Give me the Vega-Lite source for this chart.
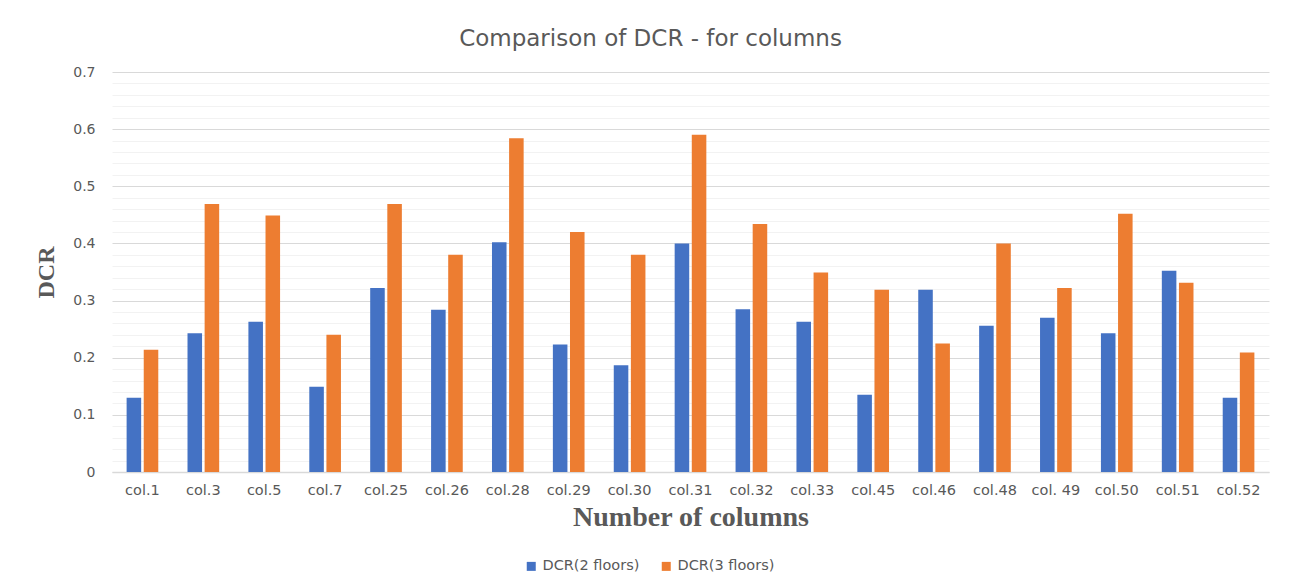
{
  "$schema": "https://vega.github.io/schema/vega-lite/v6.json",
  "width": 1157,
  "height": 400,
  "autosize": {"type": "none"},
  "padding": {"left": 112, "top": 72, "right": 24, "bottom": 116},
  "background": "white",
  "title": {
    "text": "Comparison of DCR - for columns",
    "font": "DejaVu Sans",
    "fontSize": 23,
    "fontWeight": "normal",
    "color": "#595959",
    "anchor": "middle",
    "frame": "group",
    "dx": -40,
    "offset": 14
  },
  "data": {
    "values": [
      {"col": "col.1", "series": "DCR(2 floors)", "dcr": 0.13},
      {"col": "col.1", "series": "DCR(3 floors)", "dcr": 0.214},
      {"col": "col.3", "series": "DCR(2 floors)", "dcr": 0.243},
      {"col": "col.3", "series": "DCR(3 floors)", "dcr": 0.469},
      {"col": "col.5", "series": "DCR(2 floors)", "dcr": 0.263},
      {"col": "col.5", "series": "DCR(3 floors)", "dcr": 0.449},
      {"col": "col.7", "series": "DCR(2 floors)", "dcr": 0.149},
      {"col": "col.7", "series": "DCR(3 floors)", "dcr": 0.24},
      {"col": "col.25", "series": "DCR(2 floors)", "dcr": 0.322},
      {"col": "col.25", "series": "DCR(3 floors)", "dcr": 0.469},
      {"col": "col.26", "series": "DCR(2 floors)", "dcr": 0.284},
      {"col": "col.26", "series": "DCR(3 floors)", "dcr": 0.38},
      {"col": "col.28", "series": "DCR(2 floors)", "dcr": 0.402},
      {"col": "col.28", "series": "DCR(3 floors)", "dcr": 0.584},
      {"col": "col.29", "series": "DCR(2 floors)", "dcr": 0.223},
      {"col": "col.29", "series": "DCR(3 floors)", "dcr": 0.42},
      {"col": "col.30", "series": "DCR(2 floors)", "dcr": 0.187},
      {"col": "col.30", "series": "DCR(3 floors)", "dcr": 0.38},
      {"col": "col.31", "series": "DCR(2 floors)", "dcr": 0.4},
      {"col": "col.31", "series": "DCR(3 floors)", "dcr": 0.59},
      {"col": "col.32", "series": "DCR(2 floors)", "dcr": 0.285},
      {"col": "col.32", "series": "DCR(3 floors)", "dcr": 0.434},
      {"col": "col.33", "series": "DCR(2 floors)", "dcr": 0.263},
      {"col": "col.33", "series": "DCR(3 floors)", "dcr": 0.349},
      {"col": "col.45", "series": "DCR(2 floors)", "dcr": 0.135},
      {"col": "col.45", "series": "DCR(3 floors)", "dcr": 0.319},
      {"col": "col.46", "series": "DCR(2 floors)", "dcr": 0.319},
      {"col": "col.46", "series": "DCR(3 floors)", "dcr": 0.225},
      {"col": "col.48", "series": "DCR(2 floors)", "dcr": 0.256},
      {"col": "col.48", "series": "DCR(3 floors)", "dcr": 0.4},
      {"col": "col. 49", "series": "DCR(2 floors)", "dcr": 0.27},
      {"col": "col. 49", "series": "DCR(3 floors)", "dcr": 0.322},
      {"col": "col.50", "series": "DCR(2 floors)", "dcr": 0.243},
      {"col": "col.50", "series": "DCR(3 floors)", "dcr": 0.452},
      {"col": "col.51", "series": "DCR(2 floors)", "dcr": 0.352},
      {"col": "col.51", "series": "DCR(3 floors)", "dcr": 0.331},
      {"col": "col.52", "series": "DCR(2 floors)", "dcr": 0.13},
      {"col": "col.52", "series": "DCR(3 floors)", "dcr": 0.209}
    ]
  },
  "mark": {"type": "bar"},
  "encoding": {
    "x": {
      "field": "col",
      "type": "nominal",
      "sort": null,
      "scale": {"paddingInner": 0.48, "paddingOuter": 0.24},
      "axis": {
        "title": "Number of columns",
        "titleFont": "Liberation Serif",
        "titleFontSize": 28,
        "titleFontWeight": "bold",
        "titleColor": "#595959",
        "titlePadding": 7,
        "labelFont": "DejaVu Sans",
        "labelFontSize": 14.5,
        "labelColor": "#595959",
        "labelAngle": 0,
        "labelPadding": 11,
        "ticks": false,
        "domainColor": "#D9D9D9",
        "domainWidth": 1.3,
        "grid": false
      }
    },
    "xOffset": {
      "field": "series",
      "type": "nominal",
      "scale": {"paddingInner": 0.15, "paddingOuter": 0}
    },
    "y": {
      "field": "dcr",
      "type": "quantitative",
      "scale": {"domain": [0, 0.7], "nice": false},
      "axis": {
        "title": "DCR",
        "titleFont": "Liberation Serif",
        "titleFontSize": 24,
        "titleFontWeight": "bold",
        "titleColor": "#595959",
        "titlePadding": 14,
        "values": [0, 0.02, 0.04, 0.06, 0.08, 0.1, 0.12, 0.14, 0.16, 0.18, 0.2, 0.22, 0.24, 0.26, 0.28, 0.3, 0.32, 0.34, 0.36, 0.38, 0.4, 0.42, 0.44, 0.46, 0.48, 0.5, 0.52, 0.54, 0.56, 0.58, 0.6, 0.62, 0.64, 0.66, 0.68, 0.7],
        "format": ".1~f",
        "labelExpr": "round(datum.value * 100) % 10 === 0 ? datum.label : ''",
        "labelFont": "DejaVu Sans",
        "labelFontSize": 14,
        "labelColor": "#595959",
        "labelPadding": 17,
        "ticks": false,
        "domain": false,
        "grid": true,
        "gridColor": {
          "condition": {"test": "round(datum.value * 100) % 10 === 0", "value": "#D9D9D9"},
          "value": "#F2F2F2"
        },
        "gridWidth": 1
      }
    },
    "color": {
      "field": "series",
      "type": "nominal",
      "scale": {"domain": ["DCR(2 floors)", "DCR(3 floors)"], "range": ["#4472C4", "#ED7D31"]},
      "legend": {
        "title": null,
        "orient": "none",
        "direction": "horizontal",
        "legendX": 412,
        "legendY": 487,
        "symbolType": "square",
        "symbolSize": 81,
        "symbolStrokeWidth": 0,
        "labelFont": "DejaVu Sans",
        "labelFontSize": 14.5,
        "labelColor": "#595959",
        "columnPadding": 19,
        "labelOffset": 4
      }
    }
  },
  "config": {
    "view": {"stroke": null}
  }
}
